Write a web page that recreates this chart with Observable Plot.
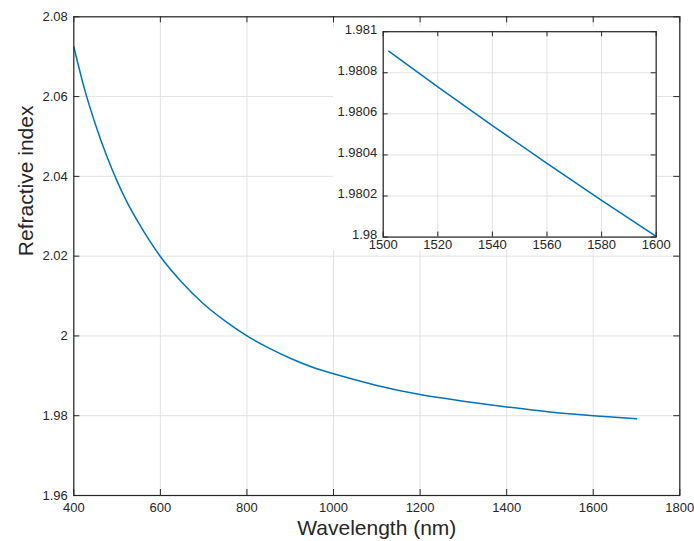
<!DOCTYPE html>
<html><head><meta charset="utf-8">
<script src="https://cdn.jsdelivr.net/npm/d3@7"></script>
<script src="https://cdn.jsdelivr.net/npm/@observablehq/plot@0.6"></script>
<style>
body{margin:0;background:#fff;}
#wrap{position:relative;width:694px;height:541px;}
#main{position:absolute;left:0;top:0;}
#inset-bg{position:absolute;left:333px;top:27px;width:323px;height:223px;background:#fff;}
#inset{position:absolute;left:333px;top:27px;}
svg{overflow:visible}
</style></head><body>
<div id="wrap"><div id="main"></div><div id="inset-bg"></div><div id="inset"></div></div>
<script>
// Main curve
const wavelengths = [400,425,450,475,500,525,550,575,600,650,700,750,800,850,900,950,1000,1100,1200,1300,1400,1500,1600,1700];
const refractiveIndex = [2.0725,2.0618,2.0530,2.0454,2.0388,2.0331,2.0283,2.0239,2.0199,2.0134,2.0080,2.0037,2.0000,1.9970,1.9944,1.9922,1.9905,1.9876,1.9853,1.98365,1.9822,1.98093,1.98001,1.97922];
const xTicks = [400,600,800,1000,1200,1400,1600,1800];
const yTicks = [1.96,1.98,2.00,2.02,2.04,2.06,2.08];
const xLabel = "Wavelength (nm)";
const yLabel = "Refractive index";

// Inset curve
const insetWavelengths = [1502,1520,1540,1560,1580,1600];
const insetIndex = [1.980905,1.980731,1.980543,1.980359,1.980179,1.980003];
const insetXTicks = [1500,1520,1540,1560,1580,1600];
const insetYTicks = [1.98,1.9802,1.9804,1.9806,1.9808,1.981];

const fmt = d => String(+d.toFixed(4));
const mainData = wavelengths.map((w, i) => ({w, n: refractiveIndex[i]}));
const insetData = insetWavelengths.map((w, i) => ({w, n: insetIndex[i]}));

const axisColor = "#262626";
const gridColor = "#e2e2e2";
const lineColor = "#0072BD";
const font = "'Liberation Sans', Arial, Helvetica, sans-serif";

const W = 694, H = 541, mL = 73.3, mR = 14.7, mT = 16.3, mB = 46;
const pH = H - mT - mB, pW = W - mL - mR, tick = 6;

const main = Plot.plot({
  width: W, height: H,
  marginLeft: mL, marginRight: mR, marginTop: mT, marginBottom: mB,
  style: {fontFamily: font, fontSize: "13px", color: axisColor, background: "transparent", overflow: "visible"},
  x: {domain: [400, 1800]},
  y: {domain: [1.96, 2.08]},
  marks: [
    Plot.ruleX(xTicks, {stroke: gridColor, strokeWidth: 1}),
    Plot.ruleY(yTicks, {stroke: gridColor, strokeWidth: 1}),
    Plot.line(mainData, {x: "w", y: "n", stroke: lineColor, strokeWidth: 1.5, curve: "monotone-x"}),
    Plot.ruleX(xTicks, {stroke: axisColor, insetTop: pH - tick}),
    Plot.ruleX(xTicks, {stroke: axisColor, insetBottom: pH - tick}),
    Plot.ruleY(yTicks, {stroke: axisColor, insetRight: pW - tick}),
    Plot.ruleY(yTicks, {stroke: axisColor, insetLeft: pW - tick}),
    Plot.frame({stroke: axisColor, strokeWidth: 1.2}),
    Plot.axisX({ticks: xTicks, tickSize: 0, tickPadding: 7, tickFormat: fmt, label: null, fill: axisColor}),
    Plot.axisY({ticks: yTicks, tickSize: 0, tickPadding: 6, tickFormat: fmt, label: null, fill: axisColor}),
    Plot.text([xLabel], {frameAnchor: "bottom", lineAnchor: "middle", dy: 33, fontSize: 21, fill: axisColor}),
    Plot.text([yLabel], {frameAnchor: "left", lineAnchor: "middle", dx: -48, rotate: -90, fontSize: 21, fill: axisColor})
  ]
});
document.getElementById("main").appendChild(main);

const imL = 49.7, imR = 18, imT = 4.2, imB = 20;
const ipW = 273, ipH = 205.4;
const iW = imL + ipW + imR, iH = imT + ipH + imB, itick = 5;
const inset = Plot.plot({
  width: iW, height: iH,
  marginLeft: imL, marginRight: imR, marginTop: imT, marginBottom: imB,
  style: {fontFamily: font, fontSize: "13px", color: axisColor, background: "transparent", overflow: "visible"},
  x: {domain: [1500, 1600]},
  y: {domain: [1.98, 1.981]},
  marks: [
    Plot.frame({fill: "white"}),
    Plot.ruleX(insetXTicks, {stroke: gridColor}),
    Plot.ruleY(insetYTicks, {stroke: gridColor}),
    Plot.line(insetData, {x: "w", y: "n", stroke: lineColor, strokeWidth: 1.5, curve: "monotone-x"}),
    Plot.ruleX(insetXTicks, {stroke: axisColor, insetTop: ipH - itick}),
    Plot.ruleX(insetXTicks, {stroke: axisColor, insetBottom: ipH - itick}),
    Plot.ruleY(insetYTicks, {stroke: axisColor, insetRight: ipW - itick}),
    Plot.ruleY(insetYTicks, {stroke: axisColor, insetLeft: ipW - itick}),
    Plot.frame({stroke: axisColor, strokeWidth: 1.2}),
    Plot.axisX({ticks: insetXTicks, tickSize: 0, tickPadding: 3, tickFormat: fmt, label: null, fill: axisColor}),
    Plot.axisY({ticks: insetYTicks, tickSize: 0, tickPadding: 6, dy: -2, tickFormat: fmt, label: null, fill: axisColor})
  ]
});
document.getElementById("inset").appendChild(inset);
</script>
</body></html>
